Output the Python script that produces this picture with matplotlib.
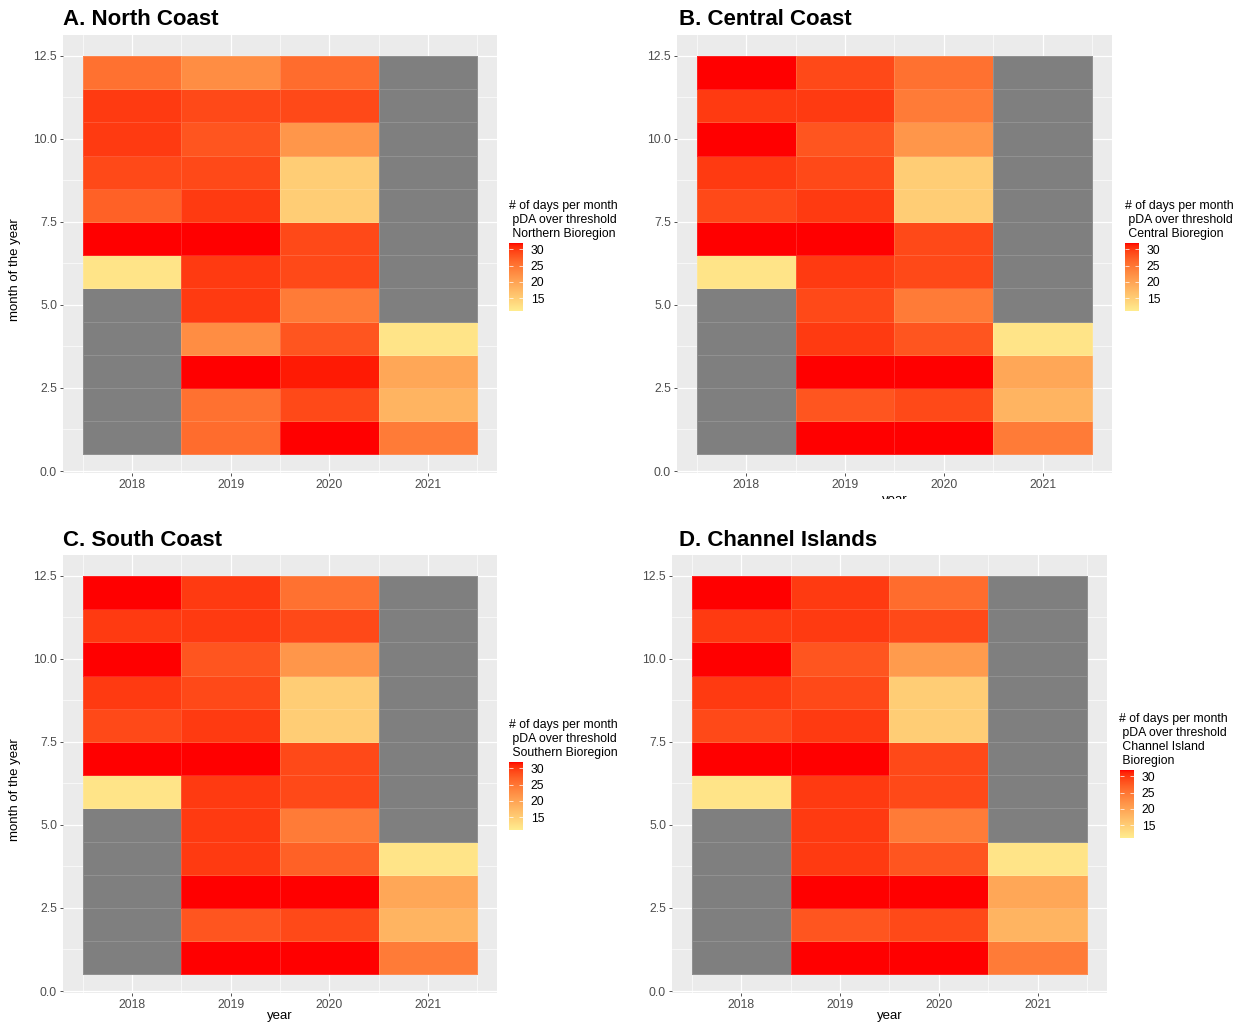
import numpy as np
import matplotlib
matplotlib.use('Agg')
import matplotlib.pyplot as plt
from matplotlib.colors import ListedColormap, Normalize, to_rgb
from matplotlib.cm import ScalarMappable
from matplotlib.transforms import Bbox, TransformedBbox

plt.rcParams['font.family'] = ['Liberation Sans', 'DejaVu Sans']

# ---------------- data ----------------
years = [2018, 2019, 2020, 2021]
months = list(range(1, 13))
NA = np.nan

# values per year, months 1..12
north_2018 = [NA, NA, NA, NA, NA, 12, 32, 27, 29, 30, 30, 25.5]
north_2019 = [26, 25.5, 32, 22.5, 30, 30, 32, 30, 29, 28, 29, 22.5]
north_2020 = [32, 29, 31.5, 28, 24.5, 29, 29, 15, 15, 21.5, 29, 26]
north_2021 = [24.5, 18, 19.5, 12, NA, NA, NA, NA, NA, NA, NA, NA]

central_2018 = [NA, NA, NA, NA, NA, 12, 32, 29, 30, 32, 30, 32]
central_2019 = [32, 28, 32, 30, 29, 30, 32, 30, 29, 28, 30, 29]
central_2020 = [32, 29, 32, 28, 24.5, 29, 29, 15, 15, 21.5, 24.5, 25.5]
central_2021 = [24.5, 18, 19.5, 12, NA, NA, NA, NA, NA, NA, NA, NA]

south_2018 = [NA, NA, NA, NA, NA, 12, 32, 29, 30, 32, 30, 32]
south_2019 = [32, 28, 32, 30, 30, 30, 32, 30, 29, 28, 30, 30]
south_2020 = [32, 29, 32, 27, 24.5, 29, 29, 15, 15, 21.5, 29, 25.5]
south_2021 = [24.5, 18, 19.5, 12, NA, NA, NA, NA, NA, NA, NA, NA]

channel_2018 = [NA, NA, NA, NA, NA, 12, 32, 29, 30, 32, 30, 32]
channel_2019 = [32, 28, 32, 30, 30, 30, 32, 30, 29, 28, 30, 30]
channel_2020 = [32, 29, 32, 28, 24.5, 29, 29, 15, 15, 21, 29, 26]
channel_2021 = [24.5, 18, 19.5, 12, NA, NA, NA, NA, NA, NA, NA, NA]

panel_titles = ["A. North Coast", "B. Central Coast", "C. South Coast", "D. Channel Islands"]
legend_titles = [
    ["# of days per month", " pDA over threshold", " Northern Bioregion"],
    ["# of days per month", " pDA over threshold", " Central Bioregion"],
    ["# of days per month", " pDA over threshold", " Southern Bioregion"],
    ["# of days per month", " pDA over threshold", " Channel Island", " Bioregion"],
]
y_ticks = [0.0, 2.5, 5.0, 7.5, 10.0, 12.5]
y_ticklabels = ["0.0", "2.5", "5.0", "7.5", "10.0", "12.5"]
legend_ticks = [15, 20, 25, 30]
fill_limits = (11, 32)

panels_data = [
    [north_2018, north_2019, north_2020, north_2021],
    [central_2018, central_2019, central_2020, central_2021],
    [south_2018, south_2019, south_2020, south_2021],
    [channel_2018, channel_2019, channel_2020, channel_2021],
]

# ---------------- colour scale (Lab interpolation like ggplot) ----------------
M = np.array([[0.4124564, 0.3575761, 0.1804375],
              [0.2126729, 0.7151522, 0.0721750],
              [0.0193339, 0.1191920, 0.9503041]])
WP = np.array([0.95047, 1.0, 1.08883])


def to_lab(hexc):
    rgb = np.array(to_rgb(hexc))
    lin = np.where(rgb <= 0.04045, rgb / 12.92, ((rgb + 0.055) / 1.055) ** 2.4)
    xyz = M @ lin / WP
    d = 6 / 29
    f = np.where(xyz > d ** 3, np.cbrt(xyz), xyz / (3 * d * d) + 4 / 29)
    return np.array([116 * f[1] - 16, 500 * (f[0] - f[1]), 200 * (f[1] - f[2])])


def from_lab(lab):
    L, a, b = lab[:, 0], lab[:, 1], lab[:, 2]
    fy_ = (L + 16) / 116
    fx_ = fy_ + a / 500
    fz_ = fy_ - b / 200
    d = 6 / 29
    finv = lambda t: np.where(t > d, t ** 3, 3 * d * d * (t - 4 / 29))
    xyz = np.stack([finv(fx_), finv(fy_), finv(fz_)], axis=1) * WP
    lin = np.clip(xyz @ np.linalg.inv(M).T, 0, 1)
    rgb = np.where(lin <= 0.0031308, 12.92 * lin, 1.055 * lin ** (1 / 2.4) - 0.055)
    return np.clip(rgb, 0, 1)


lo, hi = to_lab("#FFEC8F"), to_lab("#FF0000")
tt = np.linspace(0, 1, 256)[:, None]
cmap = ListedColormap(from_lab(lo + (hi - lo) * tt))
cmap.set_bad("#7F7F7F")
norm = Normalize(vmin=fill_limits[0], vmax=fill_limits[1])

# ---------------- layout ----------------
W, H = 1247, 1026
fig = plt.figure(figsize=(W / 100, H / 100), dpi=100)


def fx(px):
    return px / W


def fy(py):
    return 1 - py / H


# panel boxes: left, top, right, bottom (pixels)
panel_boxes = [(63, 35, 497, 473), (677, 35, 1112, 473),
               (63, 555, 497, 993), (672, 555, 1107, 993)]
title_pos = [(63, 25), (679, 25), (63, 546), (679, 546)]
# legend: title x, first baseline, bar (x0, y0, x1, y1)
legend_pos = [(509, 209, (509, 243, 523, 311)),
              (1125, 209, (1125, 243, 1139, 311)),
              (509, 728, (509, 762, 523, 830)),
              (1119, 722, (1120, 770, 1134, 838))]

x_edges = np.append(np.array(years) - 0.5, years[-1] + 0.5)
y_edges = np.append(np.array(months) - 0.5, months[-1] + 0.5)

for i, (box, data) in enumerate(zip(panel_boxes, panels_data)):
    l, t, r, b = box
    ax = fig.add_axes([fx(l), fy(b), fx(r) - fx(l), fy(t) - fy(b)])
    ax.set_facecolor("#EBEBEB")
    Z = np.ma.masked_invalid(np.array(data, dtype=float).T)
    ax.pcolormesh(x_edges, y_edges, Z, cmap=cmap, norm=norm,
                  edgecolors=(1, 1, 1, 0.14), linewidth=0.4, zorder=2)
    ax.set_xlim(2017.3, 2021.7)
    ax.set_ylim(-0.06, 13.13)
    ax.set_xticks(years)
    ax.set_xticklabels([str(y) for y in years])
    ax.set_yticks(y_ticks)
    ax.set_yticklabels(y_ticklabels)
    ax.set_xticks(x_edges, minor=True)
    ax.set_yticks([1.25, 3.75, 6.25, 8.75, 11.25], minor=True)
    ax.grid(which="major", color="white", linewidth=0.9, zorder=0)
    ax.grid(which="minor", color="white", linewidth=0.45, zorder=0)
    ax.set_axisbelow(True)
    for s in ax.spines.values():
        s.set_visible(False)
    ax.tick_params(which="major", length=2.5, width=0.6, color="#333333",
                   labelsize=8.7, labelcolor="#4D4D4D", pad=1.8)
    ax.tick_params(which="minor", length=0)

    tx, ty = title_pos[i]
    fig.text(fx(tx), fy(ty), panel_titles[i], fontsize=16, fontweight="bold",
             va="baseline", ha="left", color="black")

    # legend
    lx, lby, (bx0, by0, bx1, by1) = legend_pos[i]
    for k, line in enumerate(legend_titles[i]):
        fig.text(fx(lx), fy(lby + 14 * k), line, fontsize=8.8, va="baseline",
                 ha="left", color="black")
    cax = fig.add_axes([fx(bx0), fy(by1), fx(bx1) - fx(bx0), fy(by0) - fy(by1)])
    cb = fig.colorbar(ScalarMappable(norm=norm, cmap=cmap), cax=cax, ticks=legend_ticks)
    cb.outline.set_visible(False)
    cax.tick_params(axis="y", direction="in", color="white", length=2.8, width=0.5,
                    left=True, right=True, labelleft=False, labelright=True,
                    labelsize=8.7, pad=5.5, labelcolor="black")

# axis titles
fig.text(fx(15), fy(270), "month of the year", rotation=90, fontsize=9.5,
         ha="center", va="center")
fig.text(fx(15), fy(790), "month of the year", rotation=90, fontsize=9.5,
         ha="center", va="center")
fig.text(fx(280), fy(1016), "year", fontsize=9.5, ha="center", va="center")
fig.text(fx(890), fy(1016), "year", fontsize=9.5, ha="center", va="center")

# partially hidden axis title under panel B
hidden = fig.text(fx(894.5), fy(494.5), "year", fontsize=9.5, ha="center", va="top")
hidden.set_clip_box(TransformedBbox(Bbox.from_extents(0, fy(499), 1, 1), fig.transFigure))
hidden.set_clip_on(True)

fig.savefig("out.png", dpi=100)
